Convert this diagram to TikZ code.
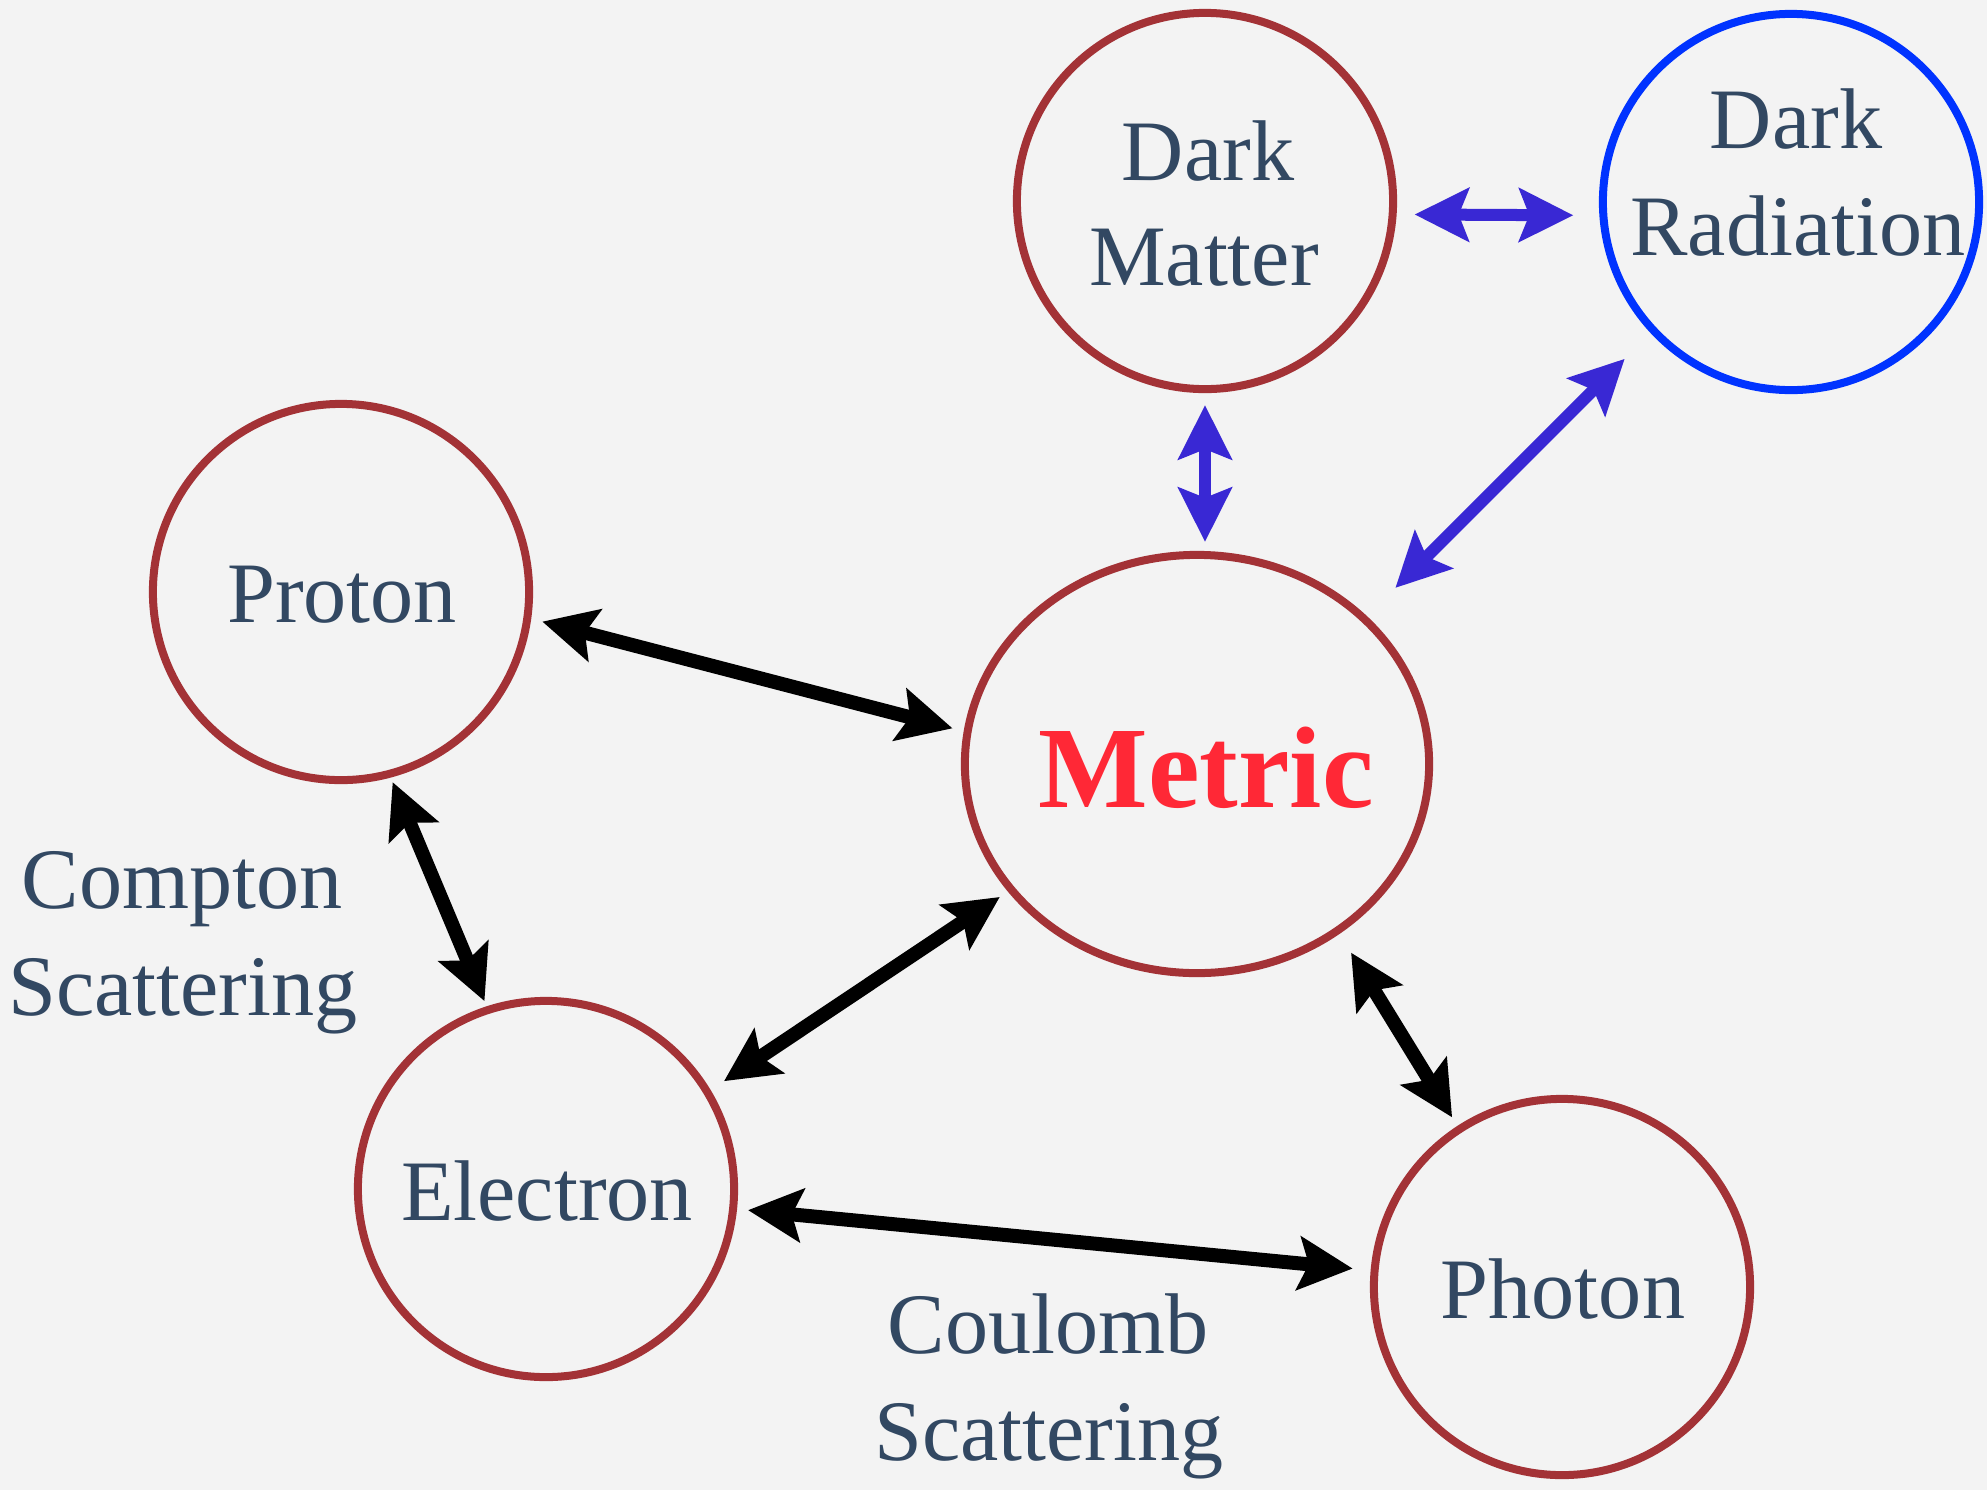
\documentclass[tikz,border=0pt]{standalone}
\usepackage{fontspec}
\setmainfont{Liberation Serif}
\usetikzlibrary{arrows.meta,shapes.geometric}
\definecolor{bg}{RGB}{243,243,243}
\definecolor{ring}{RGB}{163,50,54}
\definecolor{ink}{RGB}{50,72,98}
\definecolor{metricred}{RGB}{255,40,54}
\definecolor{arrowblue}{RGB}{57,40,212}
\definecolor{ringblue}{RGB}{0,51,255}
\begin{document}
\begin{tikzpicture}[x=0.01cm,y=-0.01cm,
  particle/.style={circle,draw=ring,line width=0.08cm,minimum size=3.76cm,inner sep=0pt},
  metricshape/.style={ellipse,draw=ring,line width=0.08cm,minimum width=4.64cm,minimum height=4.18cm,inner sep=0pt},
  lbl/.style={text=ink,font=\fontsize{24.5}{30}\selectfont,inner sep=0pt,anchor=base},
  biglbl/.style={text=metricred,font=\fontsize{33}{38}\selectfont\bfseries,inner sep=0pt,anchor=base},
  link/.style={line width=0.12cm,>={Stealth[length=0.54cm,width=0.53cm,inset=0.1cm]},<->},
  blacklink/.style={link,line width=0.14cm,draw=black},
  bluelink/.style={link,draw=arrowblue,fill=arrowblue}
]
\useasboundingbox (0,0) rectangle (1987,1490);
\fill[bg] (0,0) rectangle (1987,1490);

% circles
\node[particle] (dm) at (1205,201) {};
\node[particle,draw=ringblue] (dr) at (1791,202) {};
\node[particle] (proton) at (341,592) {};
\node[particle] (electron) at (546,1189) {};
\node[particle] (photon) at (1562,1287) {};
\node[metricshape] (metric) at (1197,764) {};

% texts
\node[lbl] (dmA) at (1208,180) {Dark};
\node[lbl] (dmB) at (1204,285) {Matter};
\node[lbl] (drA) at (1796,148) {Dark};
\node[lbl] (drB) at (1798,255) {Radiation};
\node[lbl] (protonT) at (342,622) {Proton};
\node[lbl] (electronT) at (547,1220) {Electron};
\node[lbl] (photonT) at (1563,1318) {Photon};
\node[biglbl] (metricT) at (1206,807) {Metric};
\node[lbl] (comptonA) at (182,908) {Compton};
\node[lbl] (comptonB) at (183,1015) {Scattering};
\node[lbl] (coulombA) at (1048,1353) {Coulomb};
\node[lbl] (coulombB) at (1049,1460) {Scattering};

% connectors
\draw[bluelink,shorten <=0.18cm,shorten >=0.26cm] (dm.-4.4) -- (dr.184);
\draw[bluelink,shorten <=0.12cm,shorten >=0.09cm] (dm.south) -- (dm.south |- metric.north);
\draw[bluelink,shorten <=0.365cm,shorten >=0.40cm] (dr.223.4) -- (metric.41.6);
\draw[blacklink,shorten <=0.114cm,shorten >=0.115cm] (proton.-8.8) -- (metric.172.3);
\draw[blacklink,shorten <=0.05cm,shorten >=0.056cm] (proton.-75.9) -- (electron.108.9);
\draw[blacklink,shorten <=0.16cm,shorten >=0.097cm] (electron.31.2) -- (metric.214);
\draw[blacklink,shorten <=0.22cm,shorten >=0.10cm] (metric.-50.8) -- (photon.123.1);
\draw[blacklink,shorten <=0.11cm,shorten >=0.18cm] (electron.-6.8) -- (photon.175.5);
\end{tikzpicture}
\end{document}
